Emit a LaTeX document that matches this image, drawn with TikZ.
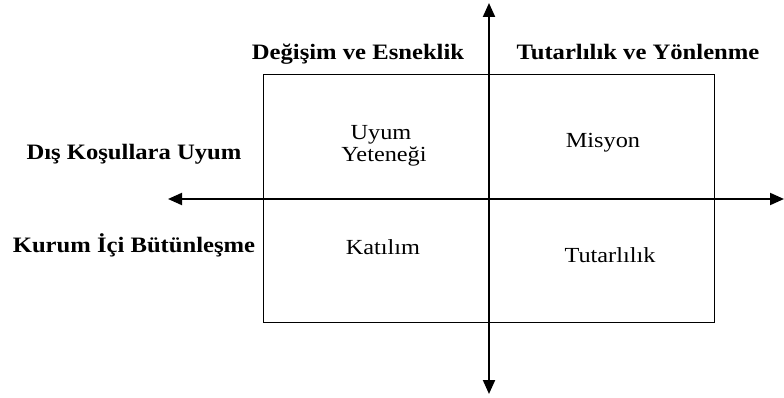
\documentclass[tikz,border=0pt]{standalone}
\usepackage{fontspec}
\setmainfont{Liberation Serif}
\usetikzlibrary{arrows.meta}
\begin{document}
\begin{tikzpicture}[x=1pt,y=-1pt,
  lbl/.style={font=\fontsize{22}{24}\selectfont\bfseries, anchor=base, inner sep=0pt, xscale=1.12},
  txt/.style={font=\fontsize{21.5}{24}\selectfont, anchor=base, inner sep=0pt, xscale=1.13},
  axis/.style={line width=2pt, -{Triangle[length=14pt,width=12pt]}},
  box/.style={line width=1pt}]
\useasboundingbox (0,0) rectangle (784,398);
\coordinate (bl) at (263,322);
\coordinate (tr) at (714,75);
\draw[box] (bl) rectangle (tr);
\coordinate (vc) at (489,199);
\coordinate (top) at (489,3);
\coordinate (bot) at (489,394);
\coordinate (lft) at (168,199);
\coordinate (rgt) at (784,199);
\draw[axis] (vc) -- (top);
\draw[axis] (vc) -- (bot);
\draw[axis] (vc) -- (lft);
\draw[axis] (vc) -- (rgt);
\node[lbl] (de) at (358,60) {Değişim ve Esneklik};
\node[lbl] (ty) at (638,60) {Tutarlılık ve Yönlenme};
\node[lbl] (dk) at (134,160) {Dış Koşullara Uyum};
\node[lbl] (kb) at (134,252) {Kurum İçi Bütünleşme};
\node[txt] (uy1) at (381,140) {Uyum};
\node[txt] (uy2) at (384,162) {Yeteneği};
\node[txt] (mi) at (603,148) {Misyon};
\node[txt] (ka) at (383,254) {Katılım};
\node[txt] (tu) at (610,262) {Tutarlılık};
\end{tikzpicture}
\end{document}
